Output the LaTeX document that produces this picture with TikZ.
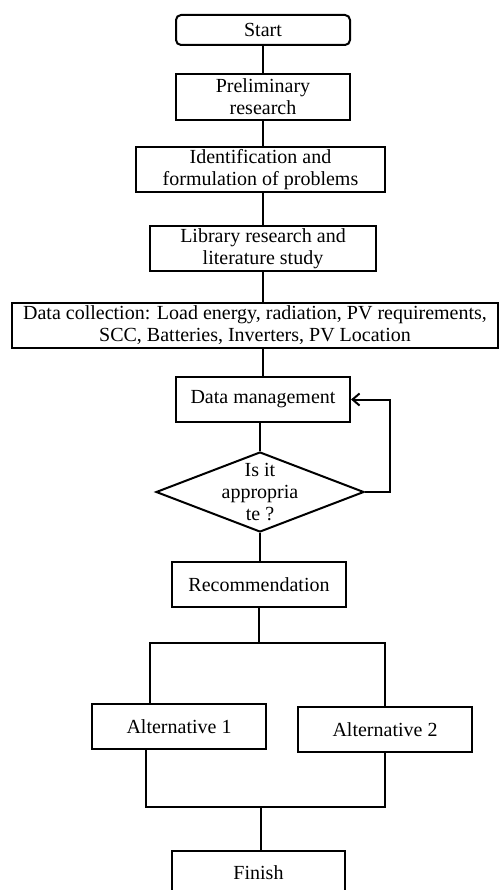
\documentclass[tikz,border=0pt]{standalone}
\usepackage{fontspec}
\setmainfont{Liberation Serif}
\usetikzlibrary{shapes.geometric,arrows.meta}

\begin{document}
\begin{tikzpicture}[x=1pt,y=-1pt,line width=2pt]
	
	\useasboundingbox (0,0) rectangle (500,890);
	
	\tikzstyle{edge} = [draw,-]
	\tikzset{box/.style = {shape=rectangle,draw,align=center,inner sep=0pt,minimum width=174pt,minimum height=45pt,font=\fontsize{20}{22}\selectfont}}
	\node[box,rounded corners=5pt,minimum height=30pt] (start) at (263,30) {Start};
	\node[box,minimum height=46pt] (prelim) at (263,97) {Preliminary\\research};
	\node[box,minimum width=249pt] (ident) at (260.5,169.5) {Identification and\\formulation of problems};
	\node[box,minimum width=226pt] (lib) at (263,248.5) {Library research and\\literature study};
	\node[box,minimum width=486pt] (data) at (255,325.5) {Data collection: Load energy, radiation, PV requirements,\\SCC, Batteries, Inverters, PV Location};
	\node[box] (dm) at (263,399.5) {Data management};
	
	\tikzset{box/.style = {shape=diamond,draw,inner sep=0pt,minimum width=208pt,minimum height=80pt}}
	\node[box] (ask) at (260,492) {};
	\node[align=center,inner sep=0pt,font=\fontsize{20}{22}\selectfont] (asktext) at (ask.center) {Is it\\appropria\\te ?};
	
	\tikzset{box/.style = {shape=rectangle,draw,align=center,inner sep=0pt,minimum width=174pt,minimum height=45pt,font=\fontsize{20}{22}\selectfont}}
	\node[box] (rec) at (259,584.5) {Recommendation};
	\node[box] (alt1) at (179,726.5) {Alternative 1};
	\node[box] (alt2) at (385,729.5) {Alternative 2};
	\node[box,minimum width=173pt,minimum height=44pt] (fin) at (258.5,873) {Finish};
	
	\coordinate (split) at (259,643);
	\coordinate (sl) at (150,643);
	\coordinate (sr) at (385,643);
	\coordinate (jl) at (146,807);
	\coordinate (jr) at (385,807);
	\coordinate (join) at (261,807);
	
	\draw[edge] (start.south) -- (prelim.north);
	\draw[edge] (prelim.south) -- (prelim.south |- ident.north);
	\draw[edge] (ident.south -| lib.south) -- (lib.north);
	\draw[edge] (lib.south) -- (lib.south |- data.north);
	\draw[edge] (data.south -| dm.south) -- (dm.north);
	\draw[edge] (ask.north |- dm.south) -- (ask.north);
	\draw[edge,-{Straight Barb[length=7pt,width=12pt]}] (ask.east) -- ++(25,0) |- (dm.east);
	\draw[edge] (ask.south) -- (ask.south |- rec.north);
	\draw[edge] (rec.south -| split) -- (split);
	\draw[edge] (alt1.north -| sl) -- (sl) -- (sr) -- (alt2.north);
	\draw[edge] (alt1.south -| jl) -- (jl) -- (jr) -- (alt2.south);
	\draw[edge] (join) -- (join |- fin.north);
	\end{tikzpicture}
\end{document}
